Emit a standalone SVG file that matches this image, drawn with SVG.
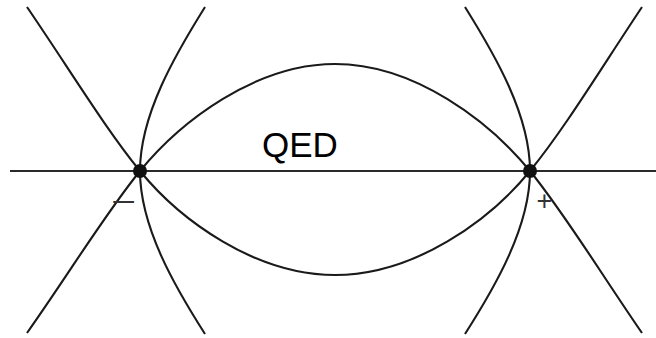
<svg xmlns="http://www.w3.org/2000/svg" width="656" height="338" viewBox="0 0 656 338">
<style>
.curve{fill:none;stroke:#1a1a1a;stroke-width:2.1}
.axis{fill:none;stroke:#2a2a2a;stroke-width:2.2}
.dot{fill:#111}
.lbl{font-family:"Liberation Sans",Arial,sans-serif;fill:#000}
.sign{font-family:"Liberation Sans",Arial,sans-serif;fill:#333;font-size:27px;text-anchor:middle}
</style>
<rect width="656" height="338" fill="#fff"/>
<g id="connectors">
<path class="axis" d="M10,171 L656,171"/>
<path class="curve" d="M27,7 C70,70 105,128 140,171 C180,220 255,275 335,275 C415,275 490,220 530,171 C565,128 600,70 642,7"/>
<path class="curve" d="M27,333 C70,272 105,214 140,171 C180,122 255,64 335,64 C415,64 490,122 530,171 C565,214 600,272 642,333"/>
<path class="curve" d="M205,7 C175,55 140,115 140,171 C140,227 175,287 205,334"/>
<path class="curve" d="M465,7 C495,55 530,115 530,171 C530,227 495,287 465,334"/>
</g>
<g id="charge-minus">
<circle class="dot" cx="140" cy="171" r="7"/>
<text class="sign" transform="translate(124,210.5) scale(1.58,1)" x="0" y="0">−</text>
</g>
<g id="charge-plus">
<circle class="dot" cx="530" cy="171" r="7"/>
<text class="sign" x="544.3" y="210">+</text>
</g>
<g id="label-qed">
<text class="lbl" x="262" y="157" font-size="35">QED</text>
</g>
</svg>
